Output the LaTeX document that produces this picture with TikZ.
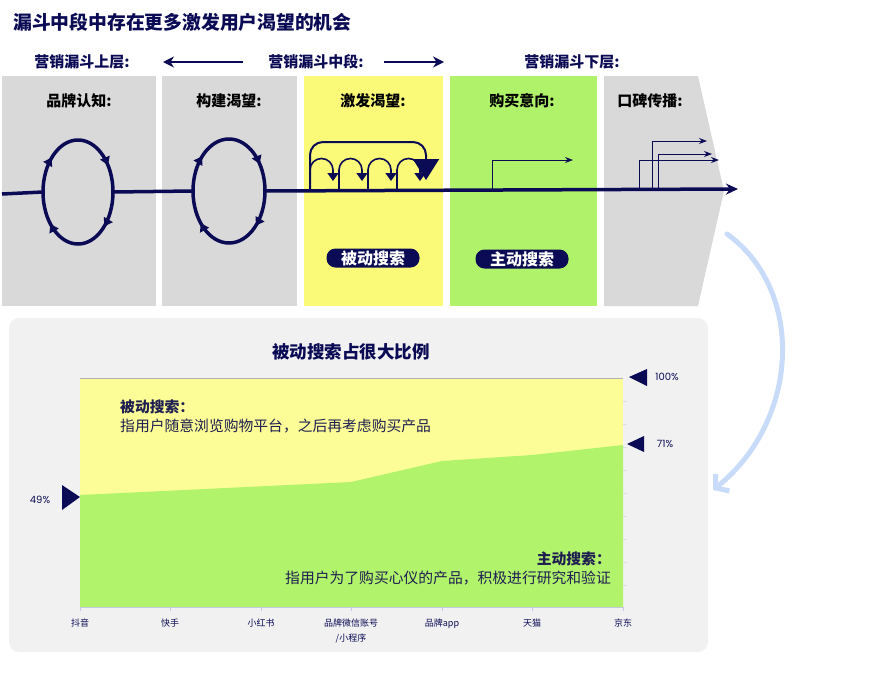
\documentclass[tikz,border=0pt]{standalone}
\usepackage{fontspec}
\setmainfont{Noto Sans CJK SC}
\newfontfamily\numfont{Poppins}
\usetikzlibrary{arrows.meta,decorations.markings}
\definecolor{navy}{HTML}{0B0B55}
\definecolor{panelgray}{HTML}{D9D9D9}
\definecolor{panelyellow}{HTML}{FAFA78}
\definecolor{panelgreen}{HTML}{B0F26A}
\definecolor{cardgray}{HTML}{F1F1F1}
\definecolor{chartyellow}{HTML}{FCFD96}
\definecolor{chartgreen}{HTML}{B2F36C}
\definecolor{flowblue}{HTML}{C8DBF8}
\definecolor{bodytext}{HTML}{1E1E50}
\definecolor{axisgray}{HTML}{C5C9E0}

\begin{document}
\begin{tikzpicture}[x=1pt, y=1pt,
    layerlabel/.style={font=\fontsize{15}{18}\selectfont\bfseries, text=navy},
    stagelabel/.style={font=\fontsize{15}{18}\selectfont\bfseries, text=black},
    pill/.style={fill=navy, text=white, rounded corners=9pt, minimum width=93pt,
        minimum height=19pt, inner sep=0pt, font=\fontsize{16}{18}\selectfont\bfseries},
    loop/.style={navy, line width=3.5pt, postaction={decorate}, decoration={markings,
        mark=at position 0.13 with {\arrow{Triangle[width=10pt,length=8pt]}},
        mark=at position 0.38 with {\arrow{Triangle[width=10pt,length=8pt]}},
        mark=at position 0.63 with {\arrow{Triangle[width=10pt,length=8pt]}},
        mark=at position 0.90 with {\arrow{Triangle[width=10pt,length=8pt]}}}},
    mainline/.style={navy, line width=3.5pt},
    hop/.style={navy, line width=1.6pt, -{Triangle[width=11pt,length=8pt]}},
    thinarrow/.style={navy, line width=1pt, -{Stealth[width=6pt,length=8pt]}},
    catlabel/.style={font=\fontsize{9}{15}\selectfont, text=navy, align=center, anchor=north, inner sep=0pt},
    pctlabel/.style={font=\numfont\fontsize{10}{12}\selectfont, text=navy},
    bodynote/.style={font=\fontsize{14.8}{19}\selectfont, text=bodytext, inner sep=0pt}
]
    \useasboundingbox (0,0) rectangle (876,-673);

    % 标题
    \node[anchor=west, inner sep=0pt, text=navy, font=\fontsize{18.8}{22}\selectfont\bfseries]
        (title) at (13,-22) {漏斗中段中存在更多激发用户渴望的机会};

    % 漏斗层级
    \node[layerlabel] (upper) at (82,-62) {营销漏斗上层:};
    \node[layerlabel] (middle) at (316,-62) {营销漏斗中段:};
    \node[layerlabel] (lower) at (572,-62) {营销漏斗下层:};
    \coordinate (midleftstart) at (243,-62);
    \coordinate (midleftend) at (163,-62);
    \coordinate (midrightstart) at (384,-62);
    \coordinate (midrightend) at (444,-62);
    \draw[navy, line width=2.5pt, -{Stealth[length=11pt,width=11pt]}] (midleftstart) -- (midleftend);
    \draw[navy, line width=2.5pt, -{Stealth[length=11pt,width=11pt]}] (midrightstart) -- (midrightend);

    % 五个阶段
    \fill[panelgray] (2,-76) rectangle (156,-306);
    \fill[panelgray] (162,-76) rectangle (297,-306);
    \fill[panelyellow] (304,-76) rectangle (443,-306);
    \fill[panelgreen] (450,-76) rectangle (597,-306);
    \fill[panelgray] (604,-76) -- (698,-76) -- (724,-191) -- (698,-306) -- (604,-306) -- cycle;

    \node[stagelabel] (aware) at (79,-101) {品牌认知:};
    \node[stagelabel] (build) at (229,-101) {构建渴望:};
    \node[stagelabel] (spark) at (373,-101) {激发渴望:};
    \node[stagelabel] (intent) at (522,-101) {购买意向:};
    \node[stagelabel] (word) at (650,-101) {口碑传播:};

    % 主线
    \coordinate (linestart) at (2,-194);
    \coordinate (loopa) at (78,-192);
    \coordinate (loopb) at (229,-191);
    \coordinate (lineend) at (738,-189);
    \draw[mainline] (linestart) -- ([xshift=-35pt]loopa);
    \draw[mainline] ([xshift=35pt]loopa) -- ([xshift=-36pt]loopb);
    \draw[mainline, -{Stealth[length=12pt,width=11pt]}] ([xshift=36pt]loopb) -- (lineend);
    \draw[loop] ([xshift=35pt]loopa) arc[start angle=0, end angle=-360, x radius=35, y radius=52];
    \draw[loop] ([xshift=36pt]loopb) arc[start angle=0, end angle=-360, x radius=36, y radius=52];

    % 激发渴望：多次跳跃
    \coordinate (bigstart) at (310,-191);
    \coordinate (bigend) at (426,-180);
    \draw[navy, line width=2pt, rounded corners=13pt, -{Triangle[width=26pt,length=21pt]}]
        (bigstart) -- (310,-142) -- (426,-142) -- (bigend);
    \foreach \i/\x in {1/310,2/339,3/368,4/397}{
        \coordinate (hop\i) at (\x,-191);
        \draw[hop] (hop\i) -- ++(0,21) arc[start angle=180, end angle=0, radius=11.5] -- ++(0,-11);
    }

    % 购买意向
    \coordinate (buystart) at (492,-190);
    \coordinate (buyend) at (573,-160);
    \draw[thinarrow] (buystart) |- (buyend);

    % 口碑传播
    \coordinate (worda) at (639,-190);
    \coordinate (wordb) at (652,-190);
    \coordinate (wordc) at (658,-190);
    \coordinate (wordaend) at (719,-160);
    \coordinate (wordbend) at (707,-141);
    \coordinate (wordcend) at (712,-154);
    \draw[thinarrow] (worda) |- (wordaend);
    \draw[thinarrow] (wordb) |- (wordbend);
    \draw[thinarrow] (wordc) |- (wordcend);

    \node[pill] (passive) at (373,-258) {被动搜索};
    \node[pill] (active) at (522,-259) {主动搜索};

    % 下方图表
    \fill[cardgray, rounded corners=10pt] (9,-318) rectangle (708,-652);
    \node[text=navy, font=\fontsize{17.5}{20}\selectfont\bfseries] (charttitle) at (351,-352) {被动搜索占很大比例};

    \fill[chartyellow] (80,-378) rectangle (623,-607);
    \fill[chartgreen] (80,-607) -- (80,-495) -- (351,-482) -- (442,-461) -- (532,-455)
        -- (623,-445) -- (623,-607) -- cycle;
    \draw[gray!60, line width=0.8pt] (80,-378) -- (623,-378);
    \foreach \y in {401,424,447,470,493,516,539,562,585}{
        \draw[gray!25, line width=0.5pt] (623,-\y) -- (627,-\y);
    }
    \draw[axisgray, line width=1pt] (80,-607) -- (623,-607);
    \foreach \x/\name/\txt in {80/douyin/抖音, 170/kuaishou/快手, 261/xhs/小红书,
        351/wechat/{品牌微信账号\\/小程序}, 442/app/品牌app, 532/tmall/天猫, 623/jd/京东}{
        \draw[axisgray, line width=1pt] (\x,-607) -- (\x,-611);
        \node[catlabel] (\name) at (\x,-619) {\txt};
    }

    % 比例标记
    \fill[navy] (629,-377) -- (647,-369) -- (647,-386) -- cycle;
    \node[pctlabel] (top) at (667,-377) {100\%};
    \fill[navy] (627,-444) -- (644,-436) -- (644,-452) -- cycle;
    \node[pctlabel] (seventyone) at (665,-444) {71\%};
    \fill[navy] (80,-497) -- (62,-485) -- (62,-510) -- cycle;
    \node[pctlabel] (fortynine) at (40,-500) {49\%};

    \node[bodynote, align=left, anchor=north west] (passivenote) at (120,-400)
        {\textbf{被动搜索：}\\指用户随意浏览购物平台，之后再考虑购买产品};
    \node[bodynote, align=right, anchor=north east] (activenote) at (611,-552)
        {\textbf{主动搜索：}\\指用户为了购买心仪的产品，积极进行研究和验证};

    % 蓝色弧形箭头
    \coordinate (flowstart) at (727,-234);
    \coordinate (flowend) at (713,-490);
    \draw[flowblue, line width=5pt, line cap=round, -{Straight Barb[length=9pt,width=22pt]}]
        (flowstart) .. controls (805,-290) and (800,-420) .. (flowend);
\end{tikzpicture}
\end{document}
